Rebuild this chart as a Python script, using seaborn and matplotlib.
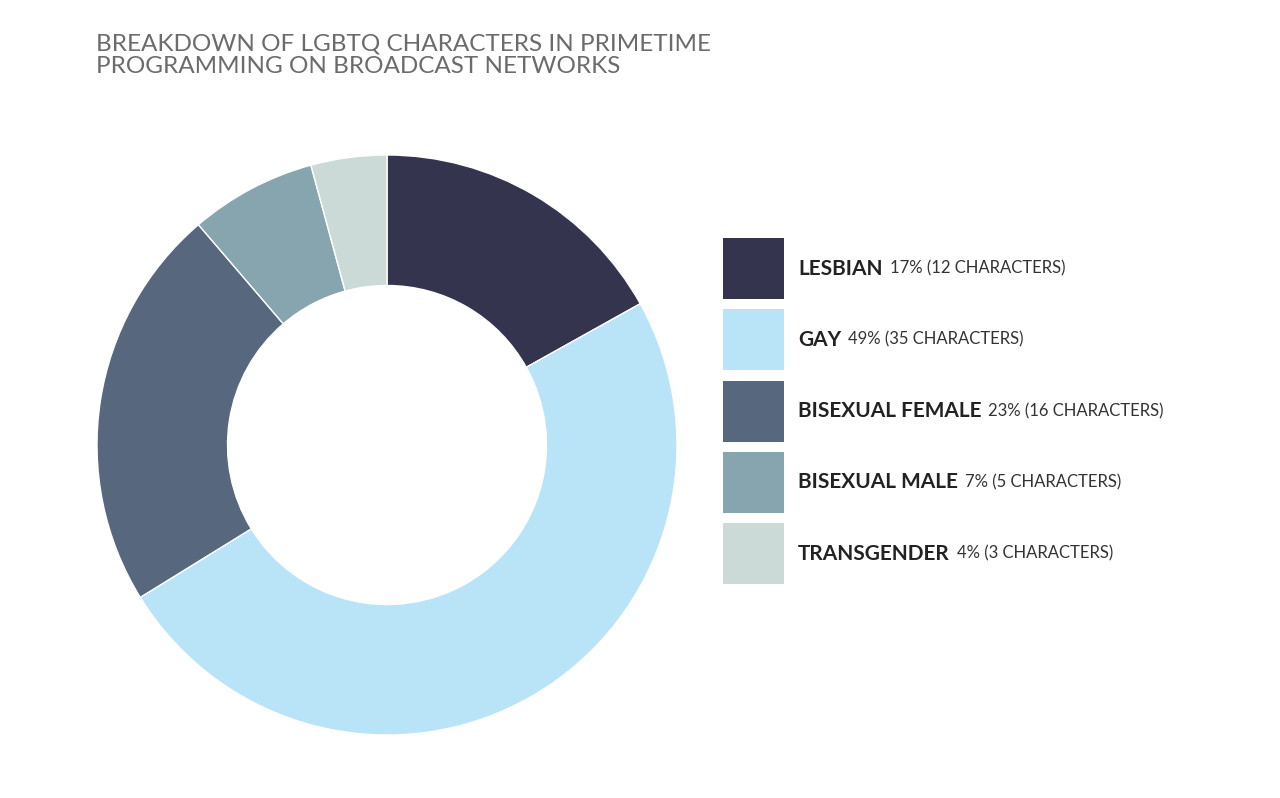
import matplotlib
matplotlib.use("Agg")
import matplotlib.pyplot as plt
import seaborn as sns
from matplotlib.patches import Rectangle

sns.set_style("white")

# data
categories = ["LESBIAN", "GAY", "BISEXUAL FEMALE", "BISEXUAL MALE", "TRANSGENDER"]
counts = [12, 35, 16, 5, 3]
percents = [17, 49, 23, 7, 4]
colors = ["#35344f", "#b9e4f8", "#56677e", "#87a5af", "#cbdad6"]

W, H = 1280, 798
fig = plt.figure(figsize=(W / 100, H / 100), dpi=100)

# donut
cx, cy, r = 387, 445, 290
ax = fig.add_axes([(cx - r) / W, (H - cy - r) / H, 2 * r / W, 2 * r / H])
ax.pie(counts, colors=colors, startangle=90, counterclock=False,
       radius=1, wedgeprops=dict(width=0.45, edgecolor="white", linewidth=1))
ax.set_xlim(-1, 1)
ax.set_ylim(-1, 1)
ax.set_aspect("equal")
ax.axis("off")

# title
fig.text(96 / W, 1 - 55 / H, "BREAKDOWN OF LGBTQ CHARACTERS IN PRIMETIME\nPROGRAMMING ON BROADCAST NETWORKS",
         fontsize=17.5, color="#6b6b6b", family="Lato", va="center", ha="left", linespacing=1.1)

# legend
fig.canvas.draw()
renderer = fig.canvas.get_renderer()
top0, step, size = 238, 71.3, 61
for i, (cat, pct, n, c) in enumerate(zip(categories, percents, counts, colors)):
    top = top0 + i * step
    fig.add_artist(Rectangle((723 / W, 1 - (top + size) / H), size / W, size / H,
                             transform=fig.transFigure, facecolor=c, edgecolor="none"))
    ymid = 1 - (top + size / 2) / H
    t = fig.text(798 / W, ymid, cat, fontsize=15, fontweight="bold", color="#222222",
                 family="Lato", va="center", ha="left")
    bb = t.get_window_extent(renderer)
    fig.text((bb.x1 + 7) / W, ymid, f"{pct}% ({n} CHARACTERS)", fontsize=12,
             color="#333333", family="Lato", va="center", ha="left")

fig.savefig("out.png", dpi=100)
